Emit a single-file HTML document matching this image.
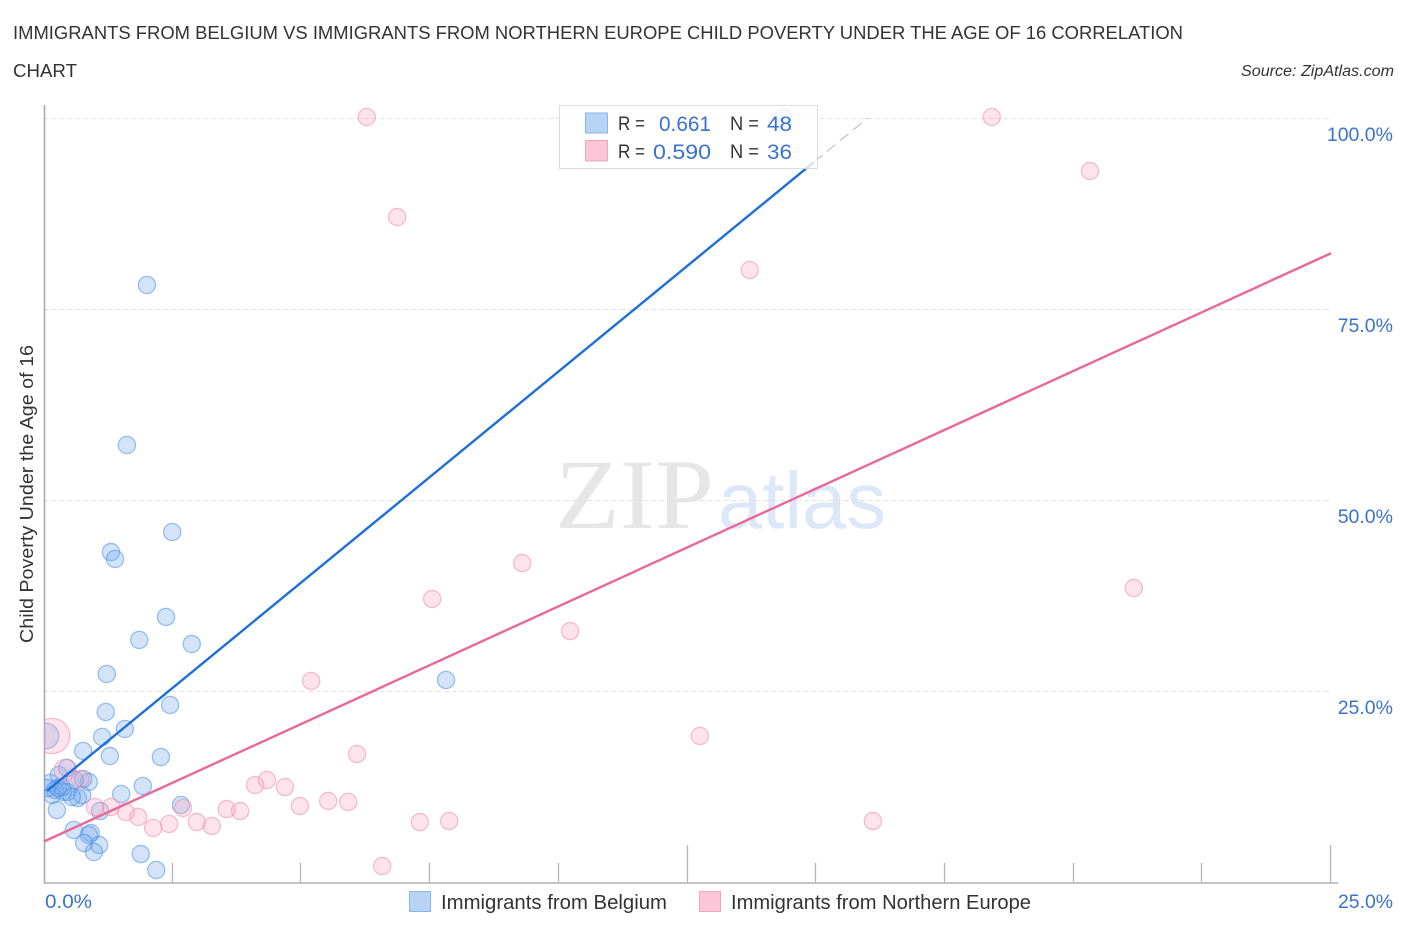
<!DOCTYPE html>
<html lang="en">
<head>
<meta charset="utf-8">
<title>Immigrants from Belgium vs Immigrants from Northern Europe Child Poverty Correlation Chart</title>
<style>
html,body{margin:0;padding:0;background:#fff;}
svg{display:block;font-family:"Liberation Sans",sans-serif;}
</style>
</head>
<body>
<svg id="chart" xmlns="http://www.w3.org/2000/svg" width="1406" height="930" viewBox="0 0 1406 930">
  <defs>
    <clipPath id="plot-clip"><rect x="44" y="100" width="1300" height="783"></rect></clipPath>
  </defs>
  <rect x="0" y="0" width="1406" height="930" fill="#fff"></rect>

  <text x="13" y="39" font-size="18.5" fill="#333" textLength="1170" lengthAdjust="spacingAndGlyphs">IMMIGRANTS FROM BELGIUM VS IMMIGRANTS FROM NORTHERN EUROPE CHILD POVERTY UNDER THE AGE OF 16 CORRELATION</text>
  <text x="13" y="77" font-size="18.5" fill="#333" textLength="64" lengthAdjust="spacingAndGlyphs">CHART</text>
  <text x="1241" y="76" font-size="15.5" font-style="italic" fill="#333" textLength="153" lengthAdjust="spacingAndGlyphs">Source: ZipAtlas.com</text>

  <g>
    <text x="555" y="528" style="font-family:'Liberation Serif',serif" font-size="100" fill="#e6e6e6" textLength="159" lengthAdjust="spacingAndGlyphs">ZIP</text>
    <text x="718" y="528" style="font-family:'Liberation Sans',sans-serif" font-size="80" fill="#dce7f7" textLength="168" lengthAdjust="spacingAndGlyphs">atlas</text>
  </g>

  <g id="grid"></g>
  <g id="y-labels"></g>
  <g id="x-ticks"></g>

  <line x1="44.5" y1="105" x2="44.5" y2="884" stroke="#aaa" stroke-width="1.6"></line>
  <line x1="44" y1="883" x2="1338" y2="883" stroke="#bbb" stroke-width="1.8"></line>

  <text transform="translate(33,494) rotate(-90)" text-anchor="middle" font-size="18" fill="#333" textLength="298" lengthAdjust="spacingAndGlyphs">Child Poverty Under the Age of 16</text>

  <g id="points-blue" clip-path="url(#plot-clip)"></g>
  <g id="points-pink" clip-path="url(#plot-clip)"></g>
  <g id="trends"></g>

  <g>
    <rect x="559.5" y="105.5" width="258" height="63" fill="#fff" fill-opacity="0.8" stroke="#dcdcdc" stroke-width="1"></rect>
    <rect x="585.5" y="113" width="22" height="20" fill="#b9d3f5" stroke="#8ab4ec" stroke-width="1"></rect>
    <rect x="585.5" y="140.500" width="22" height="20.500" fill="#fcc5d8" stroke="#f3a3bf" stroke-width="1"></rect>
    <text x="618" y="130" font-size="19" fill="#333" textLength="27" lengthAdjust="spacingAndGlyphs">R =</text>
    <text x="659" y="131" font-size="21" fill="#3a72cf" textLength="52" lengthAdjust="spacingAndGlyphs">0.661</text>
    <text x="730" y="130" font-size="19" fill="#333" textLength="29" lengthAdjust="spacingAndGlyphs">N =</text>
    <text x="767" y="131" font-size="21" fill="#3a72cf" textLength="25" lengthAdjust="spacingAndGlyphs">48</text>
    <text x="618" y="158" font-size="19" fill="#333" textLength="27" lengthAdjust="spacingAndGlyphs">R =</text>
    <text x="653" y="159" font-size="21" fill="#3a72cf" textLength="58" lengthAdjust="spacingAndGlyphs">0.590</text>
    <text x="730" y="158" font-size="19" fill="#333" textLength="29" lengthAdjust="spacingAndGlyphs">N =</text>
    <text x="767" y="159" font-size="21" fill="#3a72cf" textLength="25" lengthAdjust="spacingAndGlyphs">36</text>
  </g>

  <g>
    <rect x="409.500" y="891.500" width="21" height="20" fill="#b9d3f5" stroke="#8ab4ec" stroke-width="1"></rect>
    <text x="441" y="909" font-size="20.500" fill="#333" textLength="226" lengthAdjust="spacingAndGlyphs">Immigrants from Belgium</text>
    <rect x="699.500" y="891.500" width="21" height="20" fill="#fcc5d8" stroke="#f3a3bf" stroke-width="1"></rect>
    <text x="731" y="909" font-size="20.500" fill="#333" textLength="300" lengthAdjust="spacingAndGlyphs">Immigrants from Northern Europe</text>
  </g>

  <text x="45" y="908" font-size="19" fill="#3a72cf" textLength="47" lengthAdjust="spacingAndGlyphs">0.0%</text>
  <text x="1338" y="908" font-size="19" fill="#3a72cf" textLength="55" lengthAdjust="spacingAndGlyphs">25.0%</text>
</svg>

<script>
const NS = 'http://www.w3.org/2000/svg';

const yTickValues = [25, 50, 75, 100];
const yTickLabels = ['25.0%', '50.0%', '75.0%', '100.0%'];
const xTickValues = [2.5, 5, 7.5, 10, 12.5, 15, 17.5, 20, 22.5, 25];
const xMajorTicks = [12.5, 25];

const belgiumX = [14.36,2.00,1.61,2.49,1.30,1.38,2.37,1.85,2.87,1.22,7.81,2.45,1.20,1.57,1.13,0.04,0.76,1.28,2.27,1.92,1.50,2.66,1.09,0.25,0.58,0.91,0.87,0.78,1.07,0.97,1.88,2.18,0.45,0.29,0.87,0.76,0.66,0.74,0.12,0.16,0.21,0.37,0.45,0.54,0.35,0.06,0.60,0.27];
const belgiumY = [100.1,78.14,57.20,45.81,43.19,42.28,34.69,31.68,31.15,27.23,26.44,23.17,22.25,20.03,18.98,19.11,17.15,16.49,16.36,12.57,11.52,10.08,9.29,9.42,6.81,6.41,6.15,5.10,4.84,3.93,3.66,1.57,14.92,14.01,13.09,13.48,10.99,11.39,12.96,11.39,12.04,11.78,11.78,11.13,12.43,12.30,13.35,12.30];
const belgiumWeight = [1,1,1,1,1,1,1,1,1,1,1,1,1,1,1,2.2,1,1,1,1,1,1,1,1,1,1,1,1,1,1,1,1,1,1,1,1,1,1,1,1,1,1,1,1,1,1,1,1];

const europeX = [6.27,18.41,20.32,6.86,13.71,9.29,21.17,7.54,10.22,5.19,12.74,0.16,6.08,4.10,4.33,4.68,4.97,5.52,5.91,3.55,3.81,2.70,3.26,2.97,2.43,2.12,1.83,1.59,1.30,0.99,7.30,7.87,16.10,6.57,0.41,0.70];
const europeY = [100.13,100.13,93.06,87.04,80.10,41.75,38.48,37.04,32.85,26.31,19.11,19.11,16.75,12.70,13.35,12.43,9.95,10.60,10.47,9.55,9.29,9.69,7.33,7.85,7.59,7.07,8.51,9.16,9.82,9.82,7.85,7.98,7.98,2.09,14.66,13.48];
const europeWeight = [1,1,1,1,1,1,1,1,1,1,1,4.2,1,1,1,1,1,1,1,1,1,1,1,1,1,1,1,1,1,1,1,1,1,1,1.6,1];

const belgiumTrend = [11.6, 100];
const belgiumTrendEndX = [0.06, 16];
const belgiumSolidEndX = 14.95;
const europeTrend = [5.3, 82.3];
const europeTrendEndX = [0, 25];

function xScale(v) { return 44 + v * 51.48; }
function yScale(v) { return 882 - v * 7.64; }
function radius(w) { return 8.6 * Math.sqrt(w); }
function make(tag, attrs, parent) {
  const el = document.createElementNS(NS, tag);
  for (const k in attrs) el.setAttribute(k, attrs[k]);
  parent.appendChild(el);
  return el;
}

const grid = document.getElementById('grid');
yTickValues.forEach(function (v) {
  const py = Math.round(yScale(v)) + 0.5;
  const el = make('line', {x1: 44, x2: 1331, y1: py, y2: py, stroke: '#e2e2e2', 'stroke-width': 1, 'stroke-dasharray': '5 3'}, grid);
  
  
});

const yLabels = document.getElementById('y-labels');
yTickValues.forEach(function (v, i) {
  const el = make('text', {x: 1393, y: yScale(v) + 23, 'text-anchor': 'end', 'font-size': 19.5, fill: '#3a72cf'}, yLabels);
  el.textContent = yTickLabels[i];
  
  
});

const xTicks = document.getElementById('x-ticks');
xTickValues.forEach(function (v) {
  const top = xMajorTicks.includes(v) ? 845 : 863;
  const px = Math.round(xScale(v)) - 0.5;
  const el = make('line', {x1: px, x2: px, y1: top, y2: 883, stroke: '#b5b5b5', 'stroke-width': 1.3}, xTicks);
  
  
});

function drawPoints(groupId, xs, ys, ws, fill, stroke, name) {
  const g = document.getElementById(groupId);
  xs.forEach(function (v, i) {
    const el = make('circle', {cx: xScale(v), cy: yScale(ys[i]), r: radius(ws[i]), fill: fill, 'fill-opacity': 0.3, stroke: stroke, 'stroke-opacity': 0.55, 'stroke-width': 1.3}, g);
    
    
  });
}
drawPoints('points-blue', belgiumX, belgiumY, belgiumWeight, '#6ea6ea', '#4f8fe0', 'belgium-point');
drawPoints('points-pink', europeX, europeY, europeWeight, '#f7a6c0', '#ee8dac', 'northern-europe-point');

const trends = document.getElementById('trends');
function trendAt(trend, ends, v) {
  return trend[0] + (trend[1] - trend[0]) * (v - ends[0]) / (ends[1] - ends[0]);
}
const solidBlue = make('line', {
  x1: xScale(belgiumTrendEndX[0]), y1: yScale(trendAt(belgiumTrend, [0, 16], belgiumTrendEndX[0])),
  x2: xScale(belgiumSolidEndX), y2: yScale(trendAt(belgiumTrend, [0, 16], belgiumSolidEndX)),
  stroke: '#1f6fd8', 'stroke-width': 2.4
}, trends);


const dashBlue = make('line', {
  x1: xScale(belgiumSolidEndX), y1: yScale(trendAt(belgiumTrend, [0, 16], belgiumSolidEndX)),
  x2: xScale(belgiumTrendEndX[1]), y2: yScale(belgiumTrend[1]),
  stroke: '#9fb2d6', 'stroke-width': 0.9, 'stroke-dasharray': '11 6'
}, trends);


const pinkLine = make('line', {
  x1: xScale(europeTrendEndX[0]), y1: yScale(europeTrend[0]),
  x2: xScale(europeTrendEndX[1]), y2: yScale(europeTrend[1]),
  stroke: '#e8689a', 'stroke-width': 2.4
}, trends);


</script>
</body>
</html>
